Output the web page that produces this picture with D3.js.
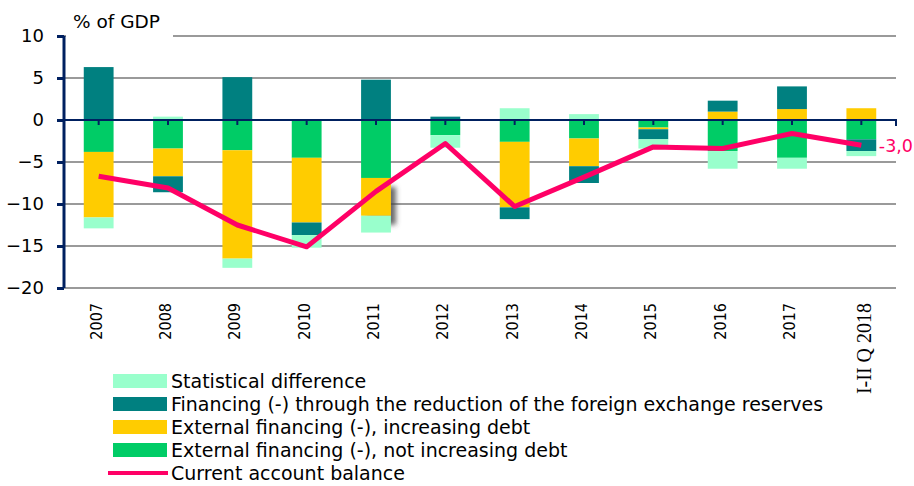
<!DOCTYPE html>
<html><head><meta charset="utf-8">
<script src="https://cdn.jsdelivr.net/npm/d3@7"></script>
<style>body{margin:0;background:#fff}svg{display:block}</style>
</head><body><svg id="c" width="914" height="486"></svg>
<script>
const categories = ["2007","2008","2009","2010","2011","2012","2013","2014","2015","2016","2017","I-II Q 2018"];
const notIncreasingDebt = [-3.8,-3.4,-3.6,-4.5,-6.9,-1.8,-2.6,-2.2,-0.9,-3.7,-4.5,-2.3];
const increasingDebt    = [-7.8,-3.3,-12.9,-7.7,-4.5,0,-7.8,-3.3,-0.2,1.0,1.3,1.4];
const reserves          = [6.3,-1.9,5.1,-1.5,4.8,0.4,-1.4,-2.0,-1.2,1.3,2.7,-1.4];
const statDiff          = [-1.3,0.4,-1.1,-1.5,-2.0,-1.5,1.4,0.7,-1.1,-2.1,-1.3,-0.6];
const currentAccount    = [-6.7,-8.1,-12.5,-15.1,-8.5,-2.8,-10.3,-6.8,-3.2,-3.4,-1.6,-3.0];
const yTicks = [10,5,0,-5,-10,-15,-20];
const seriesNames = ["External financing (-), not increasing debt","External financing (-), increasing debt","Financing (-) through the reduction of the foreign exchange reserves","Statistical difference"];
const lineName = "Current account balance";
const lastLabel = "-3,0";

const colors = ["#00CC66","#FFCC00","#008080","#99FFCC"];
const lineColor = "#FF0066";
const navy = "#002060";
const sans = "'DejaVu Sans',sans-serif";
const sansC = "'DejaVu Sans Condensed','DejaVu Sans',sans-serif";

const svg = d3.select("#c");
const defs = svg.append("defs");
const f = defs.append("filter").attr("id","shadow").attr("x","-50%").attr("y","-50%").attr("width","200%").attr("height","200%");
f.append("feDropShadow").attr("dx",5).attr("dy",9).attr("stdDeviation",2.5).attr("flood-color","#444").attr("flood-opacity",0.8);

const x = d3.scaleBand().domain(categories).range([64,896]).paddingInner(0.57).paddingOuter(0.285);
const xc = d => x(d) + x.bandwidth()/2;
const y = d3.scaleLinear().domain([-20,10]).range([288,36]);

// gridlines
svg.append("g").selectAll("line").data(yTicks).join("line")
  .attr("x1",64).attr("x2",896).attr("y1",d=>y(d)).attr("y2",d=>y(d))
  .attr("stroke","#9a9a9a").attr("stroke-width",2);

// label background & title
svg.append("rect").attr("x",66).attr("y",28).attr("width",107).attr("height",10).attr("fill","#fff");
svg.append("text").attr("x",73).attr("y",28).attr("font-family",sans).attr("font-size",18.5).attr("fill","#000").text("% of GDP");

// stacked bars
const rows = categories.map((c,i)=>({cat:c, s0:notIncreasingDebt[i], s1:increasingDebt[i], s2:reserves[i], s3:statDiff[i]}));
const stack = d3.stack().keys(["s0","s1","s2","s3"]).offset(d3.stackOffsetDiverging);
const layers = stack(rows);
const gb = svg.append("g");
layers.forEach((layer,k)=>{
  gb.append("g").selectAll("rect").data(layer).join("rect")
    .attr("x",d=>x(d.data.cat)).attr("width",x.bandwidth())
    .attr("y",d=>y(Math.max(d[0],d[1]))).attr("height",d=>Math.abs(y(d[0])-y(d[1])))
    .attr("fill",colors[k])
    .attr("filter",d=>(k===1 && d.data.cat==="2011")?"url(#shadow)":null);
});

// y axis
const ya = svg.append("g").attr("transform","translate(64,0)")
  .call(d3.axisLeft(y).tickValues(yTicks).tickSize(7).tickPadding(13).tickFormat(d3.format("d")));
ya.select(".domain").attr("stroke",navy).attr("stroke-width",3).attr("d","M0,36V288");
ya.selectAll(".tick line").attr("stroke",navy).attr("stroke-width",3);
ya.selectAll(".tick text").attr("font-family",sans).attr("font-size",18).attr("fill","#000");

// x axis at zero
const xa = svg.append("g").attr("transform",`translate(0,${y(0)})`)
  .call(d3.axisBottom(x).tickSize(5).tickFormat(""));
xa.select(".domain").attr("stroke",navy).attr("stroke-width",2).attr("d","M64,0H896V6");
xa.selectAll(".tick line").attr("stroke",navy).attr("stroke-width",2);

// x labels
svg.append("g").selectAll("text").data(categories).join("text")
  .attr("transform",(d,i)=> i===categories.length-1 ? `translate(${xc(d)+10},303) rotate(-90)` : `translate(${xc(d)+3},303) rotate(-90)`)
  .attr("text-anchor","end")
  .attr("font-family",(d,i)=> i===categories.length-1 ? "'Liberation Serif',serif" : sansC)
  .attr("font-size",(d,i)=> i===categories.length-1 ? 20 : 16)
  .attr("fill","#000").text(d=>d);

// line
const line = d3.line().x((d,i)=>xc(categories[i])).y(d=>y(d));
svg.append("path").datum(currentAccount).attr("d",line).attr("fill","none")
  .attr("stroke",lineColor).attr("stroke-width",5).attr("stroke-linejoin","round");
svg.append("text").attr("x",xc(categories[11])+17.5).attr("y",y(currentAccount[11])+7)
  .attr("font-family",sans).attr("font-size",17.5).attr("fill",lineColor).text(lastLabel);

// legend
const legend = [
  {name:seriesNames[3], c:colors[3], t:"rect"},
  {name:seriesNames[2], c:colors[2], t:"rect"},
  {name:seriesNames[1], c:colors[1], t:"rect"},
  {name:seriesNames[0], c:colors[0], t:"rect"},
  {name:lineName, c:lineColor, t:"line"}
];
const lg = svg.append("g");
legend.forEach((d,i)=>{
  const cy = 381 + i*23;
  if(d.t==="rect") lg.append("rect").attr("x",113).attr("y",cy-7).attr("width",54).attr("height",14).attr("fill",d.c);
  else lg.append("line").attr("x1",108).attr("x2",168).attr("y1",cy).attr("y2",cy).attr("stroke",d.c).attr("stroke-width",4);
  lg.append("text").attr("x",171).attr("y",cy+7).attr("font-family",sans).attr("font-size",19).attr("fill","#000").text(d.name);
});
</script></body></html>
